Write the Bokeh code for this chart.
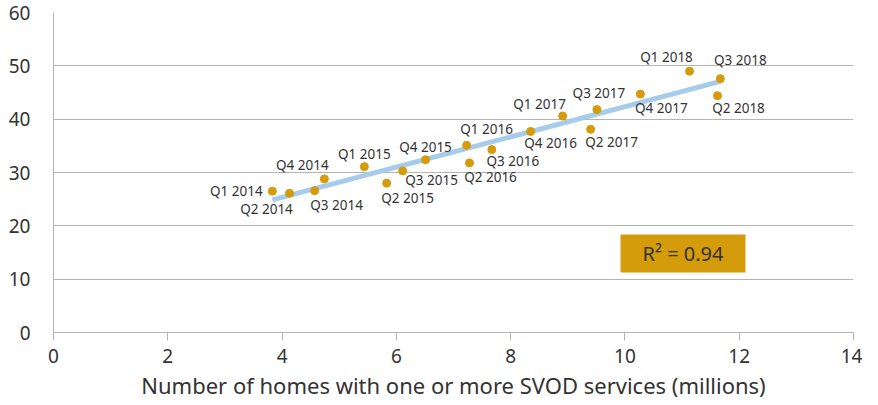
import numpy as np
from bokeh.plotting import figure
from bokeh.models import Range1d, ColumnDataSource, FixedTicker
from bokeh.core.properties import value
from bokeh.embed import file_html
from bokeh.resources import INLINE

quarters = ["Q1 2014", "Q2 2014", "Q3 2014", "Q4 2014",
            "Q1 2015", "Q2 2015", "Q3 2015", "Q4 2015",
            "Q1 2016", "Q2 2016", "Q3 2016", "Q4 2016",
            "Q1 2017", "Q2 2017", "Q3 2017", "Q4 2017",
            "Q1 2018", "Q2 2018", "Q3 2018"]
homes = [3.83, 4.13, 4.57, 4.74, 5.44, 5.83, 6.11, 6.51, 7.23, 7.28, 7.67,
         8.35, 8.91, 9.40, 9.51, 10.27, 11.13, 11.62, 11.67]
values = [26.5, 26.1, 26.6, 28.8, 31.1, 28.0, 30.3, 32.4, 35.1, 31.8, 34.3,
          37.7, 40.6, 38.1, 41.8, 44.7, 49.0, 44.4, 47.6]
x_ticks = [0, 2, 4, 6, 8, 10, 12, 14]
y_ticks = [0, 10, 20, 30, 40, 50, 60]
r2_label = "R\u00b2 = 0.94"
x_title = "Number of homes with one or more SVOD services (millions)"

# label offsets in screen pixels (dx, dy with dy positive = down)
offsets = [(-36, 0), (-23, 16), (22, 14), (-22, -14), (0, -13), (21, 15),
           (29, 9), (0, -13), (20, -16), (21, 14), (21, 11), (20, 12),
           (-23, -12), (21, 13), (2, -17), (21, 14), (-23, -14), (21, 12),
           (20, -19)]

FONT = "Noto Sans"
GOLD = "#D49B0A"

p = figure(width=862, height=402, output_backend="svg", toolbar_location=None,
           x_range=Range1d(0, 14), y_range=Range1d(0, 60),
           min_border_left=53, min_border_right=9, min_border_top=12,
           min_border_bottom=50)
p.outline_line_color = None
p.xgrid.grid_line_color = None
p.ygrid.grid_line_color = "#b4b4b4"
p.ygrid.grid_line_width = 1
p.ygrid.ticker = FixedTicker(ticks=y_ticks)

p.xaxis.ticker = FixedTicker(ticks=x_ticks)
p.yaxis.ticker = FixedTicker(ticks=y_ticks)
for ax in (p.xaxis[0], p.yaxis[0]):
    ax.axis_line_color = "#b4b4b4"
    ax.minor_tick_line_color = None
    ax.major_label_text_font = FONT
    ax.major_label_text_font_size = "19px"
    ax.major_label_text_color = "#333333"
p.yaxis.major_tick_line_color = None
p.yaxis.major_label_standoff = 17
p.xaxis.major_tick_line_color = "#b4b4b4"
p.xaxis.major_tick_out = 8
p.xaxis.major_tick_in = 0
p.xaxis.major_label_standoff = 8
p.xaxis.axis_label = x_title
p.xaxis.axis_label_text_font = FONT
p.xaxis.axis_label_text_font_size = "22px"
p.xaxis.axis_label_text_font_style = "normal"
p.xaxis.axis_label_text_color = "#333333"
p.xaxis.axis_label_standoff = 4

# trend line (least squares fit)
xs = np.array(homes)
ys = np.array(values)
m, b = np.polyfit(xs, ys, 1)
x0, x1 = xs.min(), xs.max()
p.line([x0, x1], [m * x0 + b, m * x1 + b], line_color="#A7CBEA", line_width=5)

src = ColumnDataSource(dict(x=homes, y=values, t=quarters,
                            dx=[o[0] for o in offsets],
                            dy=[o[1] for o in offsets]))
p.scatter("x", "y", source=src, size=8, fill_color=GOLD, line_color=GOLD)
p.text("x", "y", text="t", source=src, x_offset="dx", y_offset="dy",
       text_align="center", text_baseline="middle",
       text_font=value(FONT), text_font_size="13.5px", text_color="#333333")

# R^2 box
bx = (682.5 - 53) / 800 * 14
by = (332 - 253) / 320 * 60
p.rect(x=[bx], y=[by], width=125, height=38, width_units="screen",
       height_units="screen", fill_color=GOLD, line_color=None)
p.text(x=[bx], y=[by], text=[r2_label], text_align="center",
       text_baseline="middle", text_font=value(FONT), text_font_size="20px",
       text_color="#333333")

open("out.html", "w").write(file_html(p, INLINE))
